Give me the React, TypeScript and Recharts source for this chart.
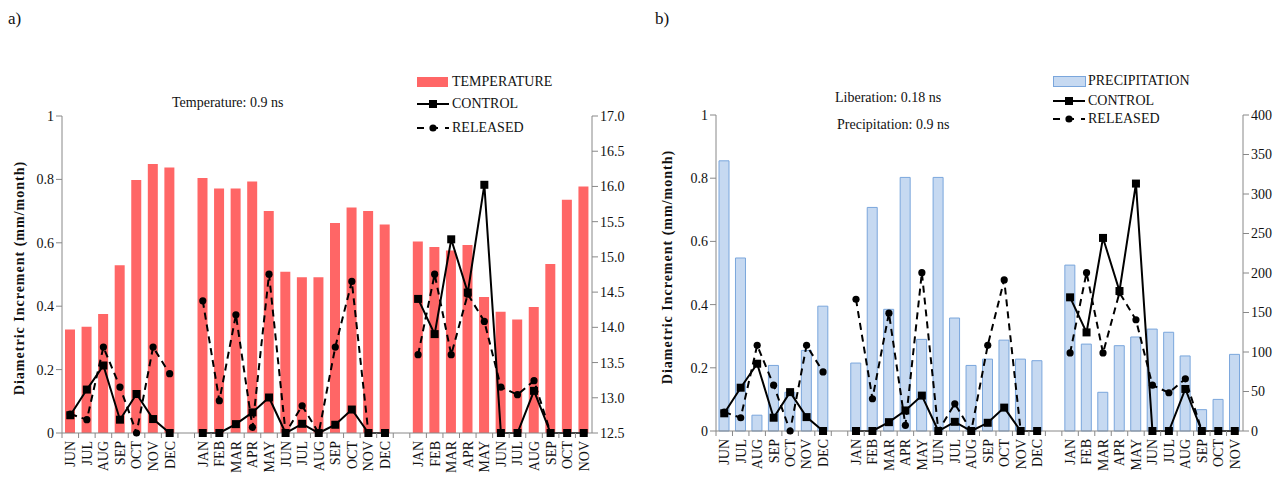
import { ComposedChart, Bar, Line, XAxis, YAxis } from "recharts";

const months1 = ["JUN", "JUL", "AUG", "SEP", "OCT", "NOV", "DEC"];
const months2 = ["JAN", "FEB", "MAR", "APR", "MAY", "JUN", "JUL", "AUG", "SEP", "OCT", "NOV", "DEC"];
const months3 = ["JAN", "FEB", "MAR", "APR", "MAY", "JUN", "JUL", "AUG", "SEP", "OCT", "NOV"];
const categories = [...months1, "", ...months2, "", ...months3];

const control = [0.056, 0.137, 0.213, 0.042, 0.123, 0.044, 0, null,
    0, 0, 0.028, 0.065, 0.112, 0, 0.029, 0, 0.026, 0.074, 0, 0, null,
    0.423, 0.312, 0.611, 0.443, 0.783, 0, 0, 0.133, 0, 0, 0];
const released = [0.06, 0.042, 0.271, 0.145, 0, 0.271, 0.187, null,
    0.417, 0.102, 0.373, 0.018, 0.501, 0, 0.086, 0, 0.271, 0.478, 0, 0, null,
    0.247, 0.501, 0.247, 0.438, 0.352, 0.145, 0.121, 0.165, 0, 0, 0];
const temperature = [13.97, 14.01, 14.19, 14.88, 16.09, 16.32, 16.27, null,
    16.12, 15.97, 15.97, 16.07, 15.65, 14.79, 14.71, 14.71, 15.48, 15.7, 15.65, 15.46, null,
    15.22, 15.14, 15.09, 15.17, 14.43, 14.22, 14.11, 14.29, 14.9, 15.81, 16.0];
const precipitation = [342, 219, 20, 83, 49, 102, 158, null,
    86, 283, 154, 321, 116, 321, 143, 83, 91, 115, 91, 89, null,
    210, 110, 49, 108, 119, 129, 125, 95, 27, 40, 97];

const leftTicks = [0, 0.2, 0.4, 0.6, 0.8, 1];
const tempTicks = [12.5, 13, 13.5, 14, 14.5, 15, 15.5, 16, 16.5, 17];
const precTicks = [0, 50, 100, 150, 200, 250, 300, 350, 400];

const data = categories.map((m, i) => ({
    i,
    m,
    control: control[i],
    released: released[i],
    temperature: temperature[i],
    precipitation: precipitation[i],
}));

const FONT = "'Liberation Serif', 'DejaVu Serif', serif";
const AXIS = "#888888";

const SquareDot = (props: any) => {
    const { cx, cy, index, value } = props;
    if (value == null || cx == null || cy == null) return <g key={"s" + index} />;
    return <rect key={"s" + index} x={cx - 4} y={cy - 4} width={8} height={8} fill="#000" />;
};

const CircleDot = (props: any) => {
    const { cx, cy, index, value } = props;
    if (value == null || cx == null || cy == null) return <g key={"c" + index} />;
    return <circle key={"c" + index} cx={cx} cy={cy} r={3.6} fill="#000" />;
};

const makeTick = (band: number) => (props: any) => {
    const { x, y, payload } = props;
    const label = categories[payload.value] ?? "";
    return (
        <g>
            <line x1={x - band / 2} y1={y - 8} x2={x - band / 2} y2={y - 3} stroke={AXIS} />
            <text
                transform={`translate(${x},${y}) rotate(-90)`}
                textAnchor="end"
                dy="0.35em"
                fontFamily={FONT}
                fontSize={14}
                fill="#111"
            >
                {label}
            </text>
        </g>
    );
};

const leftFmt = (v: number) => (v === 0 ? "0" : v === 1 ? "1" : v.toFixed(1));
const tickStyle = { fontFamily: FONT, fontSize: 14, fill: "#111" };

const YLabel = ({ x, y }: { x: number; y: number }) => (
    <div
        style={{
            position: "absolute",
            left: x - 150,
            top: y - 10,
            width: 300,
            height: 20,
            lineHeight: "20px",
            textAlign: "center",
            transform: "rotate(-90deg)",
            fontFamily: FONT,
            fontWeight: "bold",
            fontSize: 14,
            letterSpacing: 1,
            color: "#111",
        }}
    >
        Diametric Increment (mm/month)
    </div>
);

const Txt = ({ x, y, children, size = 14 }: any) => (
    <div
        style={{
            position: "absolute",
            left: x,
            top: y,
            fontFamily: FONT,
            fontSize: size,
            color: "#111",
            whiteSpace: "nowrap",
            lineHeight: 1,
        }}
    >
        {children}
    </div>
);

const LegendLine = ({ x, y, dashed }: { x: number; y: number; dashed?: boolean }) => (
    <svg style={{ position: "absolute", left: x, top: y - 6 }} width={32} height={12}>
        <line x1={0} y1={6} x2={32} y2={6} stroke="#000" strokeWidth={2} strokeDasharray={dashed ? "7 7" : undefined} />
        {dashed ? <circle cx={16} cy={6} r={3.6} fill="#000" /> : <rect x={12} y={2} width={8} height={8} fill="#000" />}
    </svg>
);

const App = () => {
    return (
        <div style={{ position: "absolute", left: 0, top: 0, width: 1280, height: 479, background: "#fff" }}>
            <Txt x={8} y={10} size={17}>a)</Txt>
            <Txt x={655} y={10} size={17}>b)</Txt>

            {/* panel a */}
            <div style={{ position: "absolute", left: 0, top: 0 }}>
                <ComposedChart width={640} height={479} data={data} margin={{ top: 116, right: 0, left: 0, bottom: 0 }}>
                    <XAxis
                        dataKey="i"
                        type="category"
                        xAxisId="x"
                        interval={0}
                        height={46}
                        tickSize={5}
                        tickMargin={3}
                        tickLine={false}
                        stroke={AXIS}
                        tick={makeTick((592 - 62) / 32)}
                    />
                    <YAxis
                        yAxisId="left"
                        width={62}
                        domain={[0, 1]}
                        ticks={leftTicks}
                        tickFormatter={leftFmt}
                        stroke={AXIS}
                        tick={tickStyle}
                    />
                    <YAxis
                        yAxisId="right"
                        orientation="right"
                        width={48}
                        domain={[12.5, 17]}
                        ticks={tempTicks}
                        tickFormatter={(v: number) => v.toFixed(1)}
                        stroke={AXIS}
                        tick={tickStyle}
                    />
                    <Bar xAxisId="x" yAxisId="right" dataKey="temperature" fill="#FF6666" barSize={10} isAnimationActive={false} />
                    <Line xAxisId="x" yAxisId="left" dataKey="released" stroke="#000" strokeWidth={2} strokeDasharray="7 5" dot={CircleDot} activeDot={false} isAnimationActive={false} />
                    <Line xAxisId="x" yAxisId="left" dataKey="control" stroke="#000" strokeWidth={2} dot={SquareDot} activeDot={false} isAnimationActive={false} />
                </ComposedChart>
            </div>
            <YLabel x={20} y={278} />
            <Txt x={172} y={96}>Temperature: 0.9 ns</Txt>
            <div style={{ position: "absolute", left: 417, top: 77, width: 31, height: 10, background: "#FF6666" }} />
            <Txt x={452} y={75} size={14}>TEMPERATURE</Txt>
            <LegendLine x={417} y={104} />
            <Txt x={452} y={97} size={14}>CONTROL</Txt>
            <LegendLine x={417} y={128} dashed />
            <Txt x={452} y={121} size={14}>RELEASED</Txt>

            {/* panel b */}
            <div style={{ position: "absolute", left: 640, top: 0 }}>
                <ComposedChart width={640} height={479} data={data} margin={{ top: 115, right: 0, left: 0, bottom: 0 }}>
                    <XAxis
                        dataKey="i"
                        type="category"
                        xAxisId="x"
                        interval={0}
                        height={48}
                        tickSize={5}
                        tickMargin={3}
                        tickLine={false}
                        stroke={AXIS}
                        tick={makeTick((1243 - 716) / 32)}
                    />
                    <YAxis
                        yAxisId="left"
                        width={76}
                        domain={[0, 1]}
                        ticks={leftTicks}
                        tickFormatter={leftFmt}
                        stroke={AXIS}
                        tick={tickStyle}
                    />
                    <YAxis
                        yAxisId="right"
                        orientation="right"
                        width={37}
                        domain={[0, 400]}
                        ticks={precTicks}
                        stroke={AXIS}
                        tick={tickStyle}
                    />
                    <Bar xAxisId="x" yAxisId="right" dataKey="precipitation" fill="#C6D9F1" stroke="#7AA6DC" strokeWidth={1} barSize={10} isAnimationActive={false} />
                    <Line xAxisId="x" yAxisId="left" dataKey="released" stroke="#000" strokeWidth={2} strokeDasharray="7 5" dot={CircleDot} activeDot={false} isAnimationActive={false} />
                    <Line xAxisId="x" yAxisId="left" dataKey="control" stroke="#000" strokeWidth={2} dot={SquareDot} activeDot={false} isAnimationActive={false} />
                </ComposedChart>
            </div>
            <YLabel x={668} y={267} />
            <Txt x={835} y={91}>Liberation: 0.18 ns</Txt>
            <Txt x={837} y={118}>Precipitation: 0.9 ns</Txt>
            <div style={{ position: "absolute", left: 1053, top: 76, width: 31, height: 9, background: "#C6D9F1", border: "1px solid #7AA6DC" }} />
            <Txt x={1088} y={74} size={14}>PRECIPITATION</Txt>
            <LegendLine x={1053} y={101} />
            <Txt x={1088} y={94} size={14}>CONTROL</Txt>
            <LegendLine x={1053} y={119} dashed />
            <Txt x={1088} y={112} size={14}>RELEASED</Txt>
        </div>
    );
};

export default App;
